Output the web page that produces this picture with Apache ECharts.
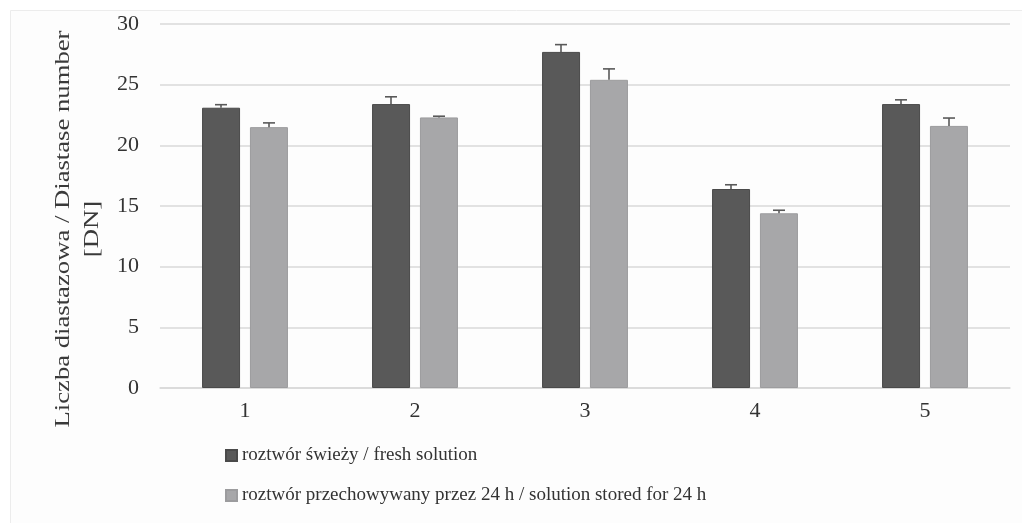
<!DOCTYPE html>
<html><head><meta charset="utf-8">
<script src="https://cdn.jsdelivr.net/npm/echarts@6/dist/echarts.min.js"></script>
<style>html,body{margin:0;padding:0;background:#fff}#c{width:1022px;height:523px}</style>
</head><body><div id="c"></div>
<script>
var categories = ['1','2','3','4','5'];
var fresh = [23.1, 23.4, 27.7, 16.4, 23.4];
var freshErr = [0.25, 0.6, 0.6, 0.35, 0.35];
var stored = [21.5, 22.3, 25.4, 14.4, 21.6];
var storedErr = [0.35, 0.1, 0.9, 0.25, 0.65];
var seriesNames = ['roztwór świeży / fresh solution', 'roztwór przechowywany przez 24 h / solution stored for 24 h'];
var yTicks = [0, 5, 10, 15, 20, 25, 30];

var font = 'Liberation Serif';
var chart = echarts.init(document.getElementById('c'));

function errSeries(vals, errs, idx) {
  return {
    type: 'custom',
    name: seriesNames[idx],
    data: vals.map(function (v, i) { return [i, v, v + errs[i]]; }),
    z: 5,
    renderItem: function (params, api) {
      var ci = api.value(0);
      var base = api.coord([ci, api.value(1)]);
      var top = api.coord([ci, api.value(2)]);
      var barW = 38, gap = 10;
      var off = (idx === 0 ? -1 : 1) * (barW + gap) / 2;
      var x = base[0] + off;
      return {
        type: 'group',
        children: [
          { type: 'line', shape: { x1: x, y1: base[1], x2: x, y2: top[1] }, style: { stroke: '#595959', lineWidth: 1.6 } },
          { type: 'line', shape: { x1: x - 6, y1: top[1], x2: x + 6, y2: top[1] }, style: { stroke: '#595959', lineWidth: 1.6 } }
        ]
      };
    }
  };
}

chart.setOption({
  backgroundColor: '#ffffff',
  animation: false,
  graphic: [
    { type: 'rect', left: 10, top: 10, shape: { width: 1012, height: 513 }, style: { fill: '#fdfdfd', stroke: '#ececec', lineWidth: 1 }, z: -10 },
    { type: 'text', x: 78, y: 229, rotation: Math.PI / 2, scaleX: 1.27, style: { text: 'Liczba diastazowa / Diastase number\n[DN]', font: '21px "' + font + '"', fill: '#3a3a3a', align: 'center', verticalAlign: 'middle', lineHeight: 29 } }
  ],
  grid: { left: 160, right: 12, top: 24, bottom: 135, containLabel: false },
  legend: {
    orient: 'vertical', left: 220, top: 441, itemWidth: 11, itemHeight: 11, itemGap: 21,
    icon: 'rect',
    textStyle: { fontFamily: font, fontSize: 19, color: '#333' },
    data: seriesNames
  },
  xAxis: {
    type: 'category', data: categories,
    axisLine: { lineStyle: { color: '#d9d9d9', width: 1.5 } },
    axisTick: { show: false },
    axisLabel: { fontFamily: font, fontSize: 22, color: '#333', margin: 12 }
  },
  yAxis: {
    type: 'value', min: yTicks[0], max: yTicks[yTicks.length - 1], interval: 5,
    axisLine: { show: false }, axisTick: { show: false },
    splitLine: { lineStyle: { color: '#d9d9d9', width: 1.5 } },
    axisLabel: { fontFamily: font, fontSize: 22, color: '#333', margin: 21 }
  },
  series: [
    { type: 'bar', name: seriesNames[0], data: fresh, barWidth: 38, barGap: '26%', itemStyle: { color: '#595959', borderColor: '#4a4a4a', borderWidth: 1 } },
    { type: 'bar', name: seriesNames[1], data: stored, barWidth: 38, itemStyle: { color: '#a7a7a9', borderColor: '#9c9c9e', borderWidth: 1 } },
    errSeries(fresh, freshErr, 0),
    errSeries(stored, storedErr, 1)
  ]
});
</script></body></html>
